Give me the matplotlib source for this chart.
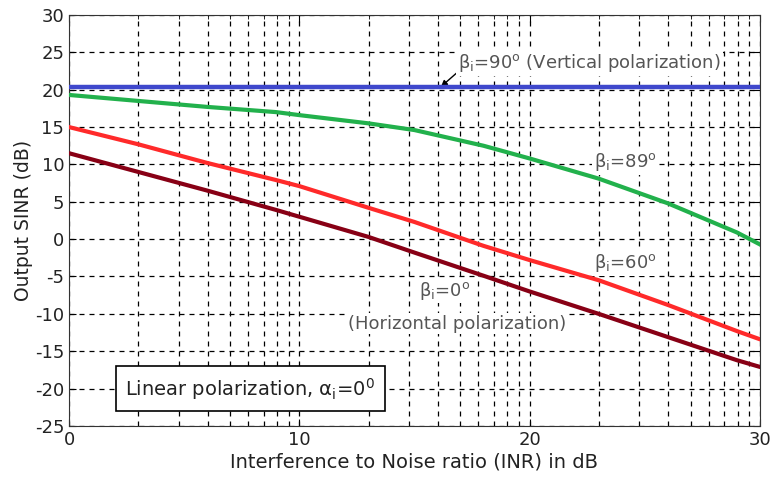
import matplotlib
matplotlib.use('Agg')
import matplotlib.pyplot as plt
import numpy as np
from matplotlib.ticker import FixedLocator, LogLocator, NullFormatter

plt.rcParams['axes.unicode_minus'] = False

# values (x in dB, y in dB)
inr_db = [0, 3, 6, 9, 10, 13, 15, 18, 20, 23, 26, 29, 30]
beta90 = [20.4] * len(inr_db)
beta89 = [19.3, 18.5, 17.7, 17.0, 16.6, 15.5, 14.6, 12.5, 10.8, 8.1, 4.8, 0.9, -0.7]
beta60 = [15.0, 12.7, 10.2, 7.9, 7.1, 4.2, 2.3, -0.9, -2.8, -5.5, -8.8, -12.3, -13.4]
beta0 = [11.5, 9.0, 6.5, 3.9, 3.0, 0.3, -1.8, -4.9, -7.0, -10.0, -13.1, -16.2, -17.1]

x_ticks = [0, 10, 20, 30]
y_ticks = list(range(-25, 31, 5))

inr = 10 ** (np.array(inr_db) / 10.0)

fig = plt.figure(figsize=(7.73, 4.84), dpi=100)
ax = fig.add_axes([0.0893, 0.12, 0.8937, 0.849])

ax.plot(inr, beta90, color='#3f48cc', lw=3.2, solid_capstyle='butt', zorder=3)
ax.plot(inr, beta89, color='#22b14c', lw=3.0, zorder=3)
ax.plot(inr, beta60, color='#ff2a2a', lw=3.0, zorder=3)
ax.plot(inr, beta0, color='#880015', lw=3.0, zorder=3)

ax.set_xscale('log')
ax.set_xlim(1, 1000)
ax.set_ylim(-25, 30)
ax.xaxis.set_major_locator(FixedLocator([10 ** (t / 10) for t in x_ticks]))
ax.set_xticklabels([str(t) for t in x_ticks])
ax.xaxis.set_minor_locator(LogLocator(base=10, subs=np.arange(2, 10)))
ax.xaxis.set_minor_formatter(NullFormatter())
ax.set_yticks(y_ticks)

ax.grid(True, which='major', color='black', ls=(0, (4, 4)), lw=0.9)
ax.grid(True, which='minor', axis='x', color='black', ls=(0, (4, 4)), lw=0.9)
ax.tick_params(which='both', direction='in', top=True, right=True, labelsize=13,
               labelcolor='#222222')
ax.tick_params(which='major', length=5)
ax.tick_params(which='minor', length=3)
for s in ax.spines.values():
    s.set_color('#333333')

ax.set_xlabel('Interference to Noise ratio (INR) in dB', fontsize=14, color='#222222',
              labelpad=3)
ax.set_ylabel('Output SINR (dB)', fontsize=13.5, color='#222222', labelpad=1)

gray = '#555555'
bg = dict(boxstyle='square,pad=0.1', fc='white', ec='none')
ax.annotate(r'$\mathrm{\beta_i}$=90$^{\rm o}$ (Vertical polarization)',
            xy=(10 ** 1.615, 20.4), xytext=(10 ** 1.69, 23.6),
            fontsize=13, color=gray, va='center', bbox=bg, zorder=2.6,
            arrowprops=dict(arrowstyle='-|>', color='black', lw=1.0,
                            mutation_scale=9, shrinkA=0, shrinkB=0,
                            relpos=(0, 0.1)))
ax.text(10 ** 2.28, 10.3, r'$\mathrm{\beta_i}$=89$^{\rm o}$', fontsize=13, color=gray,
        va='center', bbox=bg, zorder=2.6)
ax.text(10 ** 2.28, -3.2, r'$\mathrm{\beta_i}$=60$^{\rm o}$', fontsize=13, color=gray,
        va='center', bbox=bg, zorder=2.6)
ax.text(10 ** 1.52, -6.9, r'$\mathrm{\beta_i}$=0$^{\rm o}$', fontsize=13, color=gray,
        va='center', bbox=bg, zorder=2.6)
ax.text(10 ** 1.21, -11.3, '(Horizontal polarization)', fontsize=13, color=gray,
        va='center', bbox=bg, zorder=2.6)

ax.text(10 ** 0.245, -20.0, r'Linear polarization, $\mathrm{\alpha_i}$=0$^{\rm 0}$',
        fontsize=14, color='#222222', va='center',
        bbox=dict(boxstyle='square,pad=0.5', fc='white', ec='black', lw=1.2))

fig.savefig('out.png', dpi=100)
